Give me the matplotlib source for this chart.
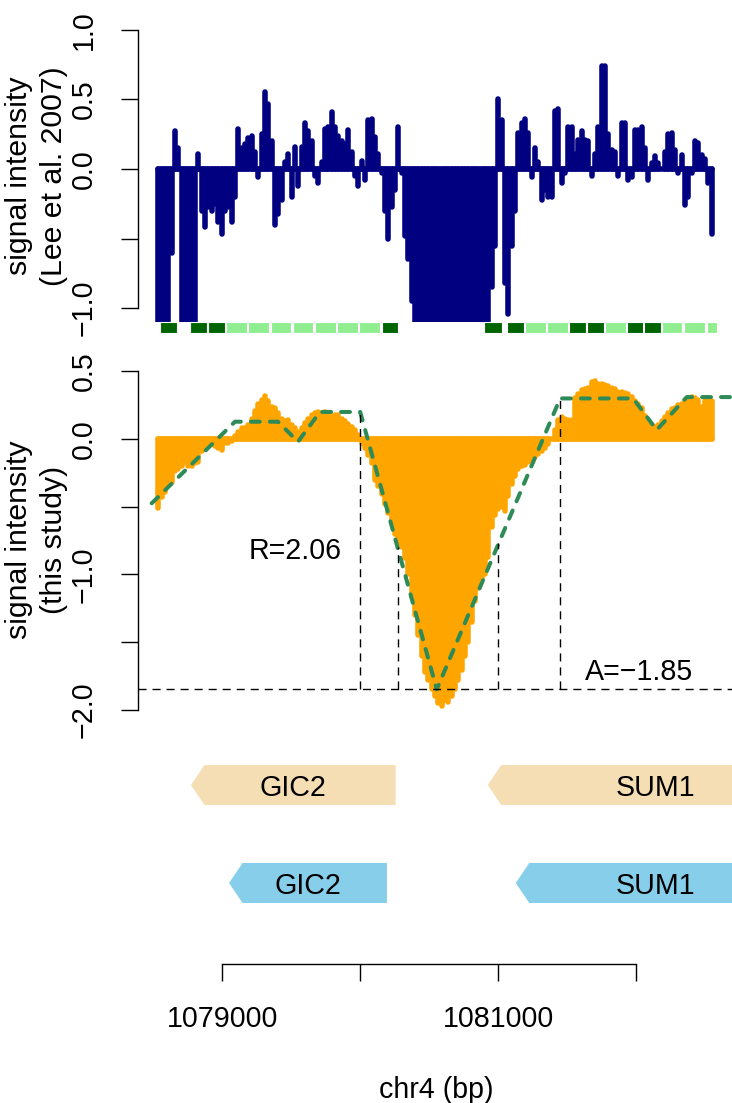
import numpy as np
import matplotlib.pyplot as plt
import matplotlib.transforms as mtransforms
from matplotlib.patches import Polygon, Rectangle

plt.rcParams['font.family'] = ['Liberation Sans', 'DejaVu Sans']

# tiling array probes on chr4 (bp), evenly spaced
probe_first = 1078536
probe_last = 1082549

# signal intensity, Lee et al. 2007 (values below -1.1 are off scale)
lee_signal = [
    -1.1, -1.1, -1.1, -1.1, -0.6, 0.27, 0.15, -1.1, -1.1, -1.1,
    -1.1, -1.1, 0.11, -0.3, -0.42, -0.27, -0.3, -0.25, -0.38, -0.47,
    -0.3, -0.27, -0.38, -0.2, 0.29, 0.15, 0.18, 0.22, 0.24, 0.12,
    -0.06, 0.25, 0.55, 0.47, 0.2, -0.4, -0.32, -0.22, 0.05, 0.11,
    -0.2, 0.16, -0.12, 0.16, 0.33, 0.27, 0.2, -0.05, -0.1, 0.05,
    0.29, 0.3, 0.41, 0.3, 0.24, 0.2, 0.18, 0.28, 0.12, -0.05,
    -0.12, 0.06, -0.08, 0.35, 0.36, 0.23, 0.11, -0.03, -0.3, -0.5,
    -0.27, -0.15, 0.3, -0.03, -0.48, -0.65, -0.95, -1.1, -1.1, -1.1,
    -1.1, -1.1, -1.1, -1.1, -1.1, -1.1, -1.1, -1.1, -1.1, -1.1,
    -1.1, -1.1, -1.1, -1.1, -1.1, -1.1, -1.1, -1.1, -1.1, -1.1,
    -0.85, -0.55, 0.5, 0.35, -0.82, -1.04, -0.55, -0.3, 0.26, 0.33,
    0.36, 0.26, -0.06, 0.15, 0.05, -0.22, -0.15, -0.2, -0.2, 0.42,
    0.43, -0.1, -0.03, 0.3, 0.3, 0.11, 0.21, 0.27, 0.21, 0.2,
    -0.05, 0.11, 0.3, 0.74, 0.74, 0.25, 0.14, 0.12, -0.05, 0.33,
    0.33, -0.08, -0.06, 0.28, 0.28, 0.3, 0.15, -0.08, 0.04, 0.09,
    0.04, 0.0, 0.12, 0.25, 0.26, 0.14, -0.03, 0.1, -0.26, -0.2,
    -0.03, 0.2, 0.19, 0.1, 0.07, -0.1, -0.47,
]

# signal intensity, this study
study_signal = [
    -0.51, -0.43, -0.39, -0.34, -0.32, -0.24, -0.22, -0.20, -0.17, -0.20,
    -0.2, -0.18, -0.17, -0.09, -0.05, -0.03, -0.04, -0.05, -0.07, -0.08,
    -0.03, -0.03, -0.015, 0.02, 0.05, 0.08, 0.08, 0.10, 0.15, 0.21,
    0.26, 0.29, 0.32, 0.28, 0.24, 0.23, 0.19, 0.15, 0.13, 0.14,
    0.10, 0.08, 0.05, 0.08, 0.12, 0.15, 0.18, 0.19, 0.20, 0.19,
    0.20, 0.19, 0.17, 0.18, 0.18, 0.15, 0.13, 0.11, 0.09, 0.07,
    0.03, -0.03, -0.07, -0.12, -0.18, -0.30, -0.35, -0.41, -0.48, -0.55,
    -0.60, -0.70, -0.77, -0.80, -0.88, -1.0, -1.17, -1.3, -1.45, -1.6,
    -1.72, -1.78, -1.85, -1.9, -1.95, -1.97, -1.93, -1.94, -1.9, -1.85,
    -1.78, -1.71, -1.6, -1.5, -1.35, -1.2, -1.1, -1.03, -1.0, -0.87,
    -0.65, -0.56, -0.52, -0.5, -0.53, -0.42, -0.33, -0.27, -0.22, -0.2,
    -0.19, -0.17, -0.16, -0.13, -0.11, -0.09, -0.07, -0.04, 0.0, 0.07,
    0.14, 0.16, 0.15, 0.14, 0.14, 0.30, 0.33, 0.36, 0.37, 0.38,
    0.42, 0.43, 0.41, 0.41, 0.40, 0.39, 0.38, 0.37, 0.35, 0.35,
    0.34, 0.33, 0.31, 0.28, 0.26, 0.23, 0.17, 0.13, 0.10, 0.09,
    0.10, 0.13, 0.16, 0.19, 0.22, 0.23, 0.25, 0.26, 0.29, 0.30,
    0.31, 0.30, 0.29, 0.24, 0.28, 0.28, 0.28,
]

# fitted trapezoid model (green dashed)
model_x = [1078488, 1079092, 1079404, 1079549, 1079708, 1080000,
           1080555, 1081450, 1081979, 1082150, 1082368, 1082800]
model_y = [-0.475, 0.128, 0.128, -0.02, 0.20, 0.20,
           -1.85, 0.30, 0.30, 0.067, 0.31, 0.31]

a_value = -1.85
r_value = 2.06
bound_x = [1080000, 1080276, 1081001, 1081450]
bound_top = [0.20, -0.80, -0.77, 0.30]

# nucleosomes from Lee et al. 2007: W = well positioned, F = fuzzy
nuc_start = [1078548, 1078766, 1078896, 1079027, 1079186, 1079353, 1079513,
             1079672, 1079832, 1079992, 1080158, 1080898, 1081065, 1081195,
             1081355, 1081514, 1081645, 1081775, 1081935, 1082058, 1082188,
             1082348, 1082514]
nuc_end = [1078671, 1078889, 1079020, 1079179, 1079339, 1079498, 1079658,
           1079825, 1079985, 1080144, 1080274, 1081028, 1081188, 1081348,
           1081507, 1081638, 1081768, 1081927, 1082051, 1082181, 1082333,
           1082500, 1082587]
nuc_kind = ['W', 'W', 'W', 'F', 'F', 'F', 'F', 'F', 'F', 'F', 'W', 'W',
            'W', 'F', 'F', 'W', 'W', 'F', 'W', 'W', 'F', 'F', 'F']

# gene annotations (both on minus strand), two sources
gene_names = ['GIC2', 'SUM1']
upper_start = [1078773, 1080925]
upper_end = [1080257, 1082900]
upper_label_x = [1079515, 1082143]
lower_start = [1079049, 1081128]
lower_end = [1080194, 1082900]
lower_label_x = [1079622, 1082143]

x_ticks = [1079000, 1080000, 1081000, 1082000]
x_tick_labels = ['1079000', '', '1081000', '']
top_ticks = [-1.0, -0.5, 0.0, 0.5, 1.0]
top_tick_labels = ['\u22121.0', '', '0.0', '0.5', '1.0']
mid_ticks = [-2.0, -1.5, -1.0, -0.5, 0.0, 0.5]
mid_tick_labels = ['\u22122.0', '', '\u22121.0', '', '0.0', '0.5']

W, H = 732, 1103
FS = 20.6
xlim = (1078391, 1082696)

fig = plt.figure(figsize=(W / 100, H / 100), dpi=100)


def px_axes(top, bottom, left=138.3, right=732):
    return fig.add_axes([left / W, 1 - bottom / H, (right - left) / W, (bottom - top) / H])


def y_axis(ax, ticks, labels):
    for s in ['top', 'right', 'bottom']:
        ax.spines[s].set_visible(False)
    ax.spines['left'].set_bounds(ticks[0], ticks[-1])
    ax.spines['left'].set_linewidth(1.0)
    ax.set_xticks([])
    ax.set_yticks(ticks)
    ax.tick_params(axis='y', length=12.2, width=1.0, labelleft=False)
    tr = mtransforms.blended_transform_factory(fig.transFigure, ax.transData)
    for t, lab in zip(ticks, labels):
        ax.text(92 / W, t, lab, transform=tr, rotation=90, rotation_mode='anchor',
                ha='center', va='baseline', fontsize=FS, clip_on=False)


def h_lines(ax, x, y, color, zorder=1):
    # R style type="h" lines: thick with round ends, which also leaves a band along zero
    lc = ax.vlines(x, 0, y, colors=color, linewidths=4.0, zorder=zorder)
    lc.set_capstyle('round')
    ax.plot([x[0], x[-1]], [0, 0], color=color, linewidth=4.0,
            solid_capstyle='round', zorder=zorder)
    return lc


pos = np.linspace(probe_first, probe_last, len(lee_signal))
pos2 = np.linspace(probe_first, probe_last, len(study_signal))

# top panel
ax1 = px_axes(18.7, 322.1)
ax1.set_xlim(xlim)
ax1.set_ylim(-1.1, 1.08)
h_lines(ax1, pos, lee_signal, '#000080')
y_axis(ax1, top_ticks, top_tick_labels)
for s, e, k in zip(nuc_start, nuc_end, nuc_kind):
    ax1.add_patch(Rectangle((s, -1.178), e - s, 0.078,
                            facecolor='#006400' if k == 'W' else '#90EE90',
                            edgecolor='white', linewidth=0.8, clip_on=False))

# middle panel
ax2 = px_axes(364.6, 716.4)
ax2.set_xlim(xlim)
ax2.set_ylim(-2.05, 0.55)
h_lines(ax2, pos2, study_signal, '#FFA500')
ax2.plot(model_x, model_y, color='#2E8B57', linewidth=2.9, dashes=[2.2, 2.5],
         dash_capstyle='round', zorder=2)
ax2.axhline(a_value, color='black', linewidth=1.0, dashes=[5.8, 4.3], zorder=3)
ax2.vlines(bound_x, a_value, bound_top, colors='black', linewidth=1.0,
           linestyles=[(0, (5.8, 4.3))], zorder=3)
y_axis(ax2, mid_ticks, mid_tick_labels)
ax2.text(1079527, -0.887, f'R={r_value:.2f}', ha='center', va='baseline', fontsize=FS)
ax2.text(1082022, -1.783, 'A=' + f'{a_value:.2f}'.replace('-', '\u2212'),
         ha='center', va='baseline', fontsize=FS)

# gene tracks and genomic axis
ax3 = px_axes(740, 964)
ax3.set_xlim(xlim)
ax3.set_ylim(0, 224)
for s in ['top', 'right', 'left']:
    ax3.spines[s].set_visible(False)
ax3.spines['bottom'].set_bounds(x_ticks[0], x_ticks[-1])
ax3.spines['bottom'].set_linewidth(1.0)
ax3.set_yticks([])
ax3.set_xticks(x_ticks)
ax3.tick_params(axis='x', length=12.2, width=1.0, labelbottom=False)
trx = mtransforms.blended_transform_factory(ax3.transData, fig.transFigure)
for t, lab in zip(x_ticks, x_tick_labels):
    ax3.text(t, 1 - 1027.3 / H, lab, transform=trx, ha='center', va='baseline',
             fontsize=FS, clip_on=False)

head = 98
half = 20
for yc, starts, ends, lx, col in [(179, upper_start, upper_end, upper_label_x, '#F5DEB3'),
                                  (81, lower_start, lower_end, lower_label_x, '#87CEEB')]:
    for name, s, e, x in zip(gene_names, starts, ends, lx):
        pts = [(s, yc), (s + head, yc + half), (e, yc + half), (e, yc - half), (s + head, yc - half)]
        ax3.add_patch(Polygon(pts, closed=True, facecolor=col, edgecolor='none'))
        ax3.text(x, yc - 11.5, name, ha='center', va='baseline', fontsize=FS)

# axis titles
fig.text(436 / W, 1 - 1097.5 / H, 'chr4 (bp)', ha='center', va='baseline', fontsize=FS)
for yc, second in [(176, '(Lee et al. 2007)'), (540, '(this study)')]:
    fig.text(27 / W, 1 - yc / H, 'signal intensity', rotation=90, rotation_mode='anchor',
             ha='center', va='baseline', fontsize=21.8)
    fig.text(62 / W, 1 - yc / H, second, rotation=90, rotation_mode='anchor',
             ha='center', va='baseline', fontsize=21.8)

fig.savefig('out.png', dpi=100)
